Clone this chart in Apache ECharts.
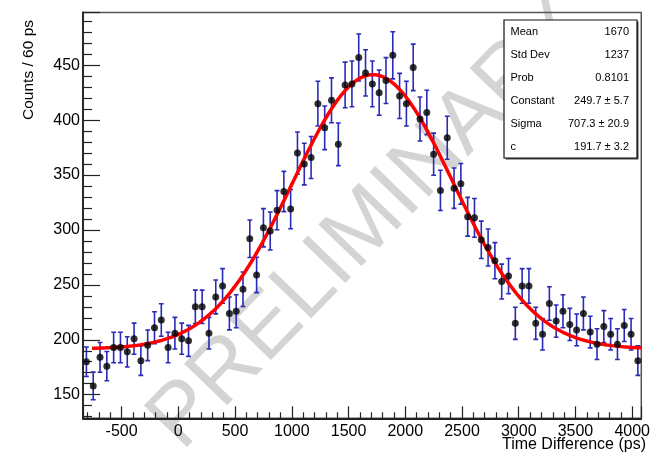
<!DOCTYPE html>
<html><head><meta charset="utf-8">
<script src="https://cdn.jsdelivr.net/npm/echarts@6/dist/echarts.min.js"></script>
<style>html,body{margin:0;padding:0;background:#fff}#c{width:653px;height:453px}</style>
</head><body><div id="c"></div>
<script>
// Histogram bin centres (ps), 60 ps bins
const binCenters = [-810,-750,-690,-630,-570,-510,-450,-390,-330,-270,-210,-150,-90,-30,
  30,90,150,210,270,330,390,450,510,570,630,690,750,810,870,930,990,1050,1110,1170,1230,
  1290,1350,1410,1470,1530,1590,1650,1710,1770,1830,1890,1950,2010,2070,2130,2190,2250,
  2310,2370,2430,2490,2550,2610,2670,2730,2790,2850,2910,2970,3030,3090,3150,3210,3270,
  3330,3390,3450,3510,3570,3630,3690,3750,3810,3870,3930,3990,4050];
// Counts per bin
const counts = [180,158,184,176,193,193,189,201,181,195,211,218,193,206,
  201,199,230,230,206,239,249,224,226,246,292,259,302,299,318,335,319,370,360,366,415,
  393,418,378,432,433,457,443,433,425,436,459,422,415,448,401,407,369,
  336,384,338,342,312,311,291,284,272,253,258,215,249,249,215,205,233,
  217,226,214,209,224,207,196,212,205,196,213,205,181];
// Stats box
const statLabels = ['Mean','Std Dev','Prob','Constant','Sigma','c'];
const statValues = ['1670','1237','0.8101','249.7 \u00b1 5.7','707.3 \u00b1 20.9','191.7 \u00b1 3.2'];
// Fit parameters (gaus + constant)
const fitConstant = 249.7, fitSigma = 707.3, fitC = 191.7, fitMean = 1715;
const fitRange = [-760, 4080];
const xRange = [-840, 4080];
const yRange = [128.5, 498];
const xTitle = 'Time Difference (ps)';
const yTitle = 'Counts / 60 ps';
const watermark = 'PRELIMINARY';

const FONT = '"Liberation Sans", Arial, Helvetica, sans-serif';
const pts = binCenters.map((x, i) => [x, counts[i], Math.sqrt(counts[i])]);
const fitPts = [];
for (let x = fitRange[0]; x <= fitRange[1]; x += 20) {
  fitPts.push([x, fitC + fitConstant * Math.exp(-0.5 * Math.pow((x - fitMean) / fitSigma, 2))]);
}

const chart = echarts.init(document.getElementById('c'), null, {renderer: 'canvas'});
const statX = 504, statY = 20, statW = 133, statH = 138, rowH = 23;
const graphics = [
  {type: 'text', z: -1, x: 369, y: 224, rotation: 46 * Math.PI / 180,
   style: {text: watermark, font: '87px ' + FONT, fill: '#d4d4d4', align: 'center', verticalAlign: 'middle'}},
  {type: 'rect', z: 10, shape: {x: statX + 1.5, y: statY + 1.5, width: statW, height: statH},
   style: {fill: '#444'}},
  {type: 'rect', z: 11, shape: {x: statX, y: statY, width: statW, height: statH},
   style: {fill: '#fff', stroke: '#111', lineWidth: 1.2}},
  {type: 'text', x: 646, y: 445, z: 5,
   style: {text: xTitle, font: '16px ' + FONT, fill: '#000', align: 'right', verticalAlign: 'middle'}},
  {type: 'text', x: 29, y: 20, z: 5, rotation: Math.PI / 2,
   style: {text: yTitle, font: '15.5px ' + FONT, fill: '#000', align: 'right', verticalAlign: 'middle'}}
];
statLabels.forEach((l, i) => {
  graphics.push({type: 'text', z: 12, x: statX + 6.5, y: statY + 11.5 + i * rowH,
    style: {text: l, font: '11px ' + FONT, fill: '#000', align: 'left', verticalAlign: 'middle'}});
  graphics.push({type: 'text', z: 12, x: statX + 125, y: statY + 11.5 + i * rowH,
    style: {text: statValues[i], font: '11px ' + FONT, fill: '#000', align: 'right', verticalAlign: 'middle'}});
});

chart.setOption({
  animation: false,
  backgroundColor: '#fff',
  grid: {left: 83, top: 12.5, right: 7, bottom: 34.7, show: true, borderColor: '#555', borderWidth: 1.5, backgroundColor: 'transparent'},
  xAxis: {
    type: 'value', min: xRange[0], max: xRange[1], minInterval: 500, maxInterval: 500, splitNumber: 10,
    axisLine: {show: true, onZero: false, lineStyle: {color: '#222', width: 1.8}},
    axisTick: {show: true, inside: true, length: 12, lineStyle: {color: '#222', width: 1.2}},
    minorTick: {show: true, splitNumber: 5, length: 6, lineStyle: {color: '#222', width: 1.2}},
    splitLine: {show: false},
    axisLabel: {color: '#000', fontSize: 16, fontFamily: FONT, margin: 5,
      formatter: v => (Math.abs(v % 500) < 1e-6 ? String(v) : '')}
  },
  yAxis: {
    type: 'value', min: yRange[0], max: yRange[1], minInterval: 50, maxInterval: 50, splitNumber: 8,
    axisLine: {show: true, onZero: false, lineStyle: {color: '#222', width: 1.8}},
    axisTick: {show: true, inside: true, length: 17, lineStyle: {color: '#222', width: 1.2}},
    minorTick: {show: true, splitNumber: 5, length: 9, lineStyle: {color: '#222', width: 1.2}},
    splitLine: {show: false},
    axisLabel: {color: '#000', fontSize: 16, fontFamily: FONT, margin: 3,
      formatter: v => (Math.abs(v % 50) < 1e-6 ? String(v) : '')}
  },
  graphic: graphics,
  series: [
    {
      type: 'custom', z: 3, data: pts, clip: true,
      renderItem(params, api) {
        const x = api.value(0), y = api.value(1), e = api.value(2);
        const top = api.coord([x, y + e]), bot = api.coord([x, y - e]);
        const cap = 2.4;
        const style = {stroke: '#2a2ab8', lineWidth: 1.6};
        return {type: 'group', children: [
          {type: 'line', shape: {x1: top[0], y1: top[1], x2: bot[0], y2: bot[1]}, style},
          {type: 'line', shape: {x1: top[0] - cap, y1: top[1], x2: top[0] + cap, y2: top[1]}, style},
          {type: 'line', shape: {x1: bot[0] - cap, y1: bot[1], x2: bot[0] + cap, y2: bot[1]}, style}
        ]};
      }
    },
    {
      type: 'line', z: 4, data: fitPts, showSymbol: false, smooth: false, clip: true,
      lineStyle: {color: '#ff0000', width: 3.5}
    },
    {
      type: 'scatter', z: 5, data: pts.map(p => [p[0], p[1]]), symbol: 'circle', symbolSize: 7,
      itemStyle: {color: '#000'}
    }
  ]
});
</script></body></html>
